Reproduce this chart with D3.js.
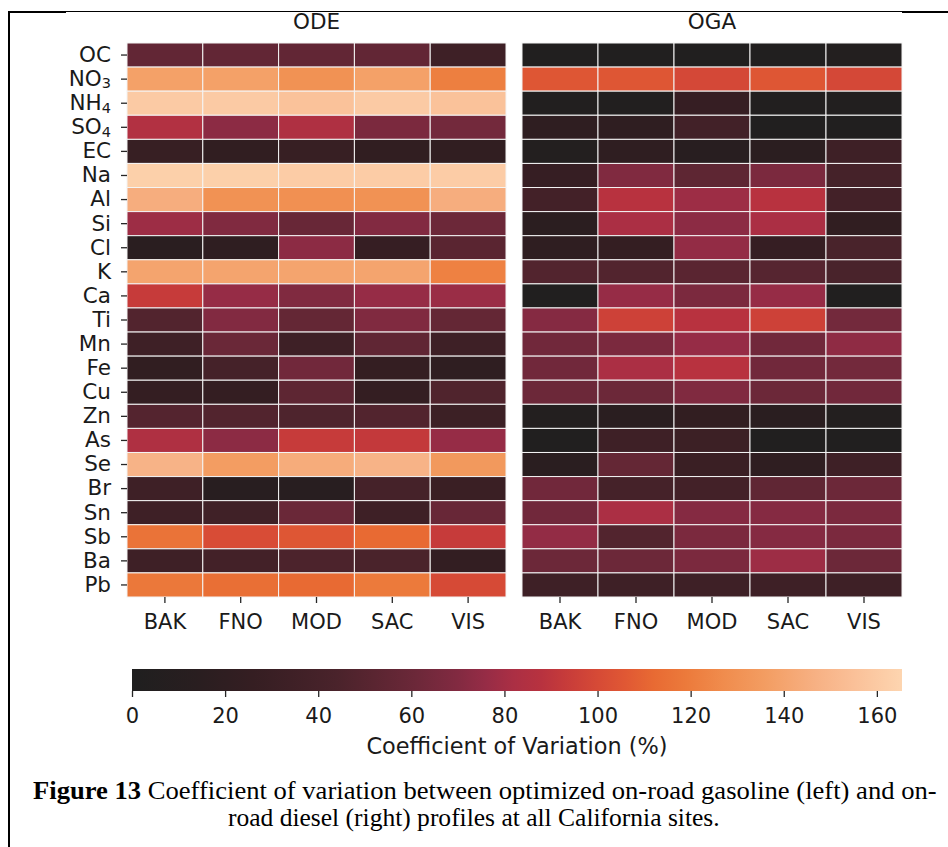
<!DOCTYPE html>
<html>
<head>
<meta charset="utf-8">
<script src="https://cdn.jsdelivr.net/npm/d3@7"></script>
<style>
  body { margin: 0; background: #fff; }
  svg { display: block; }
</style>
</head>
<body>
<svg id="chart" width="948" height="847"></svg>
<script>
// species (rows), sites (columns)
const species = ["OC", "NO3", "NH4", "SO4", "EC", "Na", "Al", "Si", "Cl", "K", "Ca", "Ti",
                 "Mn", "Fe", "Cu", "Zn", "As", "Se", "Br", "Sn", "Sb", "Ba", "Pb"];
const sites = ["BAK", "FNO", "MOD", "SAC", "VIS"];

// coefficient of variation (%), one row per species, columns follow `sites`
const odeValues = [
    [56, 56, 56, 56, 34],
    [138, 138, 130, 138, 121],
    [160, 160, 156, 160, 156],
    [85, 73, 84, 67, 64],
    [28, 22, 28, 22, 22],
    [163, 163, 161, 161, 161],
    [145, 130, 129, 130, 145],
    [78, 69, 59, 70, 61],
    [15, 20, 73, 27, 52],
    [140, 140, 140, 140, 122],
    [93, 76, 69, 76, 77],
    [48, 70, 57, 69, 57],
    [34, 60, 34, 55, 34],
    [22, 40, 63, 25, 20],
    [25, 25, 54, 25, 47],
    [49, 48, 46, 48, 32],
    [84, 73, 93, 92, 76],
    [148, 136, 144, 148, 134],
    [34, 12, 12, 40, 30],
    [34, 36, 60, 34, 59],
    [116, 101, 105, 112, 93],
    [34, 38, 45, 44, 24],
    [118, 114, 112, 119, 100]
];

const ogaValues = [
    [3, 3, 3, 3, 6],
    [105, 105, 99, 105, 99],
    [4, 4, 27, 4, 4],
    [20, 20, 37, 3, 3],
    [6, 20, 12, 16, 34],
    [27, 69, 54, 67, 40],
    [38, 88, 78, 88, 38],
    [16, 82, 73, 82, 22],
    [20, 25, 75, 27, 43],
    [48, 48, 52, 50, 43],
    [3, 76, 67, 76, 3],
    [71, 96, 88, 96, 64],
    [63, 67, 76, 63, 74],
    [63, 82, 88, 63, 64],
    [61, 61, 69, 61, 63],
    [6, 15, 23, 15, 6],
    [3, 34, 32, 3, 3],
    [15, 57, 30, 20, 34],
    [63, 40, 38, 55, 61],
    [63, 82, 71, 71, 67],
    [75, 48, 67, 71, 67],
    [61, 61, 67, 78, 61],
    [34, 34, 34, 34, 34]
];

const panels = [
    { title: "ODE", values: odeValues },
    { title: "OGA", values: ogaValues }
];

const cbTicks = [0, 20, 40, 60, 80, 100, 120, 140, 160];
const cbMax = 165.4;

// colour map as it appears in the figure
const cmapStops  = [0, 15, 26, 34, 44, 52, 61, 70, 76, 82, 88, 93, 100, 106, 112, 119, 127, 136, 147, 155, 165.4];
const cmapColors = ["#1f1f1f", "#2a1e20", "#351e22", "#3e2026", "#4a232b", "#5a2531", "#6c2839",
                    "#822a41", "#962c46", "#ab2f44", "#b8323f", "#c63b3a", "#d64a36", "#e05834",
                    "#e86a33", "#ec7a3b", "#f08c4d", "#f39d62", "#f7b184", "#fac098", "#fdd5b0"];

const color = d3.scaleLinear().domain(cmapStops).range(cmapColors).interpolate(d3.interpolateRgb).clamp(true);

const svg = d3.select("#chart");
const font = "DejaVu Sans, sans-serif";
const tickColor = "#262626";

// page frame
svg.append("line").attr("x1", 9).attr("x2", 9).attr("y1", 11).attr("y2", 847)
    .attr("stroke", "#000").attr("stroke-width", 2);
svg.append("line").attr("x1", 8).attr("x2", 66).attr("y1", 12).attr("y2", 12)
    .attr("stroke", "#000").attr("stroke-width", 2.2);
svg.append("line").attr("x1", 66).attr("x2", 902).attr("y1", 11.5).attr("y2", 11.5)
    .attr("stroke", "#000").attr("stroke-width", 1);
svg.append("line").attr("x1", 902).attr("x2", 948).attr("y1", 12).attr("y2", 12)
    .attr("stroke", "#000").attr("stroke-width", 2.2);

const hmTop = 43, hmBottom = 597;
const panelX = [[127, 506], [522, 902]];

const y = d3.scaleBand().domain(species).range([hmTop, hmBottom]);

panels.forEach((p, pi) => {
    const [x0, x1] = panelX[pi];
    const x = d3.scaleBand().domain(sites).range([x0, x1]);
    const g = svg.append("g");

    species.forEach((sp, ri) => {
        g.selectAll(null).data(p.values[ri]).enter().append("rect")
            .attr("x", (d, ci) => x(sites[ci]))
            .attr("y", y(sp))
            .attr("width", x.bandwidth())
            .attr("height", y.bandwidth())
            .attr("fill", d => color(d))
            .attr("stroke", "#f4f4f4").attr("stroke-width", 1);
    });

    svg.append("text")
        .attr("x", (x0 + x1) / 2).attr("y", 29)
        .attr("text-anchor", "middle")
        .attr("font-family", font).attr("font-size", 21.5).attr("fill", "#1a1a1a")
        .text(p.title);

    svg.append("g").attr("transform", `translate(0,${hmBottom})`)
        .call(d3.axisBottom(x).tickSize(6).tickPadding(11))
        .call(a => a.select(".domain").remove())
        .call(a => a.selectAll("line").attr("stroke", tickColor).attr("stroke-width", 1.3))
        .call(a => a.selectAll("text").attr("fill", "#1a1a1a")
            .attr("font-family", font).attr("font-size", 21));

    if (pi === 0) {
        const ax = svg.append("g").attr("transform", `translate(${x0},0)`)
            .call(d3.axisLeft(y).tickSize(6).tickPadding(10))
            .call(a => a.select(".domain").remove())
            .call(a => a.selectAll("line").attr("stroke", tickColor).attr("stroke-width", 1.3))
            .call(a => a.selectAll("text").attr("fill", "#1a1a1a")
                .attr("font-family", font).attr("font-size", 21.5));
        // chemical subscripts
        ax.selectAll("text").each(function(d) {
            const m = d.match(/^(\D+)(\d)$/);
            if (!m) return;
            const t = d3.select(this).text(null);
            t.append("tspan").text(m[1]);
            t.append("tspan").attr("font-size", 14.5).attr("dy", "0.17em").text(m[2]);
        });
    }
});

// colour bar
const cbX0 = 132, cbX1 = 902, cbY = 669, cbH = 22;
const cbScale = d3.scaleLinear().domain([0, cbMax]).range([cbX0, cbX1]);

const defs = svg.append("defs");
const grad = defs.append("linearGradient").attr("id", "cbGrad")
    .attr("x1", 0).attr("x2", 1).attr("y1", 0).attr("y2", 0);
cmapStops.forEach((s, i) => {
    grad.append("stop").attr("offset", (s / cbMax * 100) + "%").attr("stop-color", cmapColors[i]);
});

svg.append("rect")
    .attr("x", cbX0).attr("y", cbY).attr("width", cbX1 - cbX0).attr("height", cbH)
    .attr("fill", "url(#cbGrad)");

svg.append("g").attr("transform", `translate(0,${cbY + cbH})`)
    .call(d3.axisBottom(cbScale).tickValues(cbTicks).tickSize(6).tickPadding(11))
    .call(a => a.select(".domain").remove())
    .call(a => a.selectAll("line").attr("stroke", tickColor).attr("stroke-width", 1.3))
    .call(a => a.selectAll("text").attr("fill", "#1a1a1a")
        .attr("font-family", font).attr("font-size", 21));

svg.append("text")
    .attr("x", (cbX0 + cbX1) / 2).attr("y", 754)
    .attr("text-anchor", "middle")
    .attr("font-family", font).attr("font-size", 22.4).attr("fill", "#1a1a1a")
    .text("Coefficient of Variation (%)");

// caption, fitted to the width it takes in the figure
const serif = "Liberation Serif, Times New Roman, serif";
function captionLine(build, left, baseline, width) {
    const t = svg.append("text")
        .attr("font-family", serif).attr("font-size", 24.5).attr("fill", "#000");
    build(t);
    const w = t.node().getComputedTextLength();
    t.attr("transform", `translate(${left},${baseline}) scale(${width / w},1)`);
}
captionLine(t => {
    t.append("tspan").attr("font-weight", "bold").text("Figure 13");
    t.append("tspan").text(" Coefficient of variation between optimized on-road gasoline (left) and on-");
}, 33, 799, 904);
captionLine(t => t.text("road diesel (right) profiles at all California sites."), 228, 826, 492);
</script>
</body>
</html>
